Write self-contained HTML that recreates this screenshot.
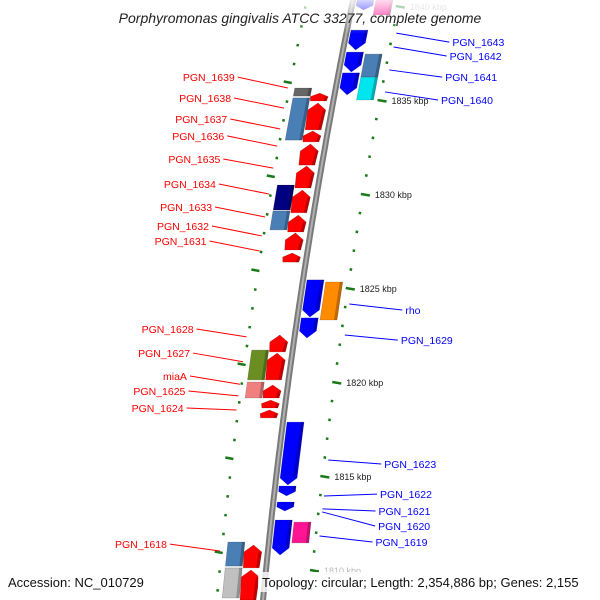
<!DOCTYPE html>
<html><head><meta charset="utf-8">
<style>
html,body{margin:0;padding:0;background:#fff;}
svg{display:block;font-family:"Liberation Sans","DejaVu Sans",sans-serif;}
</style></head>
<body>
<svg id="c" width="600" height="600" viewBox="0 0 600 600">
<defs>
<linearGradient id="fadeTop" x1="0" y1="0" x2="0" y2="1">
<stop offset="0" stop-color="#fff" stop-opacity="0.85"/><stop offset="1" stop-color="#fff" stop-opacity="0"/>
</linearGradient>
</defs>
<g id="ticks"></g>
<path id="bb" fill="none" stroke="#7a7a7a" stroke-width="6"/>
<path id="bb2" fill="none" stroke="#b0b0b0" stroke-width="2"/>
<g id="genes"></g>
<g id="labels"></g>
<rect x="0" y="0" width="600" height="34" fill="url(#fadeTop)"/>
<text x="300" y="23" text-anchor="middle" font-size="14" font-style="italic" fill="#222">Porphyromonas gingivalis ATCC 33277, complete genome</text>
<rect x="258" y="572" width="336" height="20" fill="#fff" fill-opacity="0.8"/>
<text x="8" y="587" font-size="13" fill="#111">Accession: NC_010729</text>
<text x="262" y="587" font-size="13" fill="#111">Topology: circular; Length: 2,354,886 bp; Genes: 2,155</text>
</svg>
<script>
// ---- data (kbp) ----
const leftInnerStart=[1835.37,1834.84,1833.35,1832.66,1831.49,1830.21,1828.88,1827.93,1826.86,1822.50,1821.54,1819.84,1819.04,1818.51,1811.33,1810.00];
const leftInnerEnd  =[1834.95,1833.41,1832.77,1831.54,1830.32,1829.00,1827.98,1827.02,1826.38,1821.60,1820.11,1819.15,1818.62,1818.09,1810.11,1808.40];
const leftOuterStart=[1835.64,1835.11,1830.48,1829.10,1821.70,1820.00,1811.49,1810.11];
const leftOuterEnd  =[1835.21,1832.87,1829.15,1828.09,1820.11,1819.15,1810.21,1808.51];
const leftOuterColor=["#666666","#4a7fb5","#000080","#4a7fb5","#6b8e23","#f08080","#4a7fb5","#c0c0c0"];
const rightInnerStart=[1840.32,1838.72,1837.55,1836.44,1825.43,1823.41,1817.87,1814.47,1813.62,1812.66];
const rightInnerEnd  =[1839.79,1837.66,1836.49,1835.27,1823.46,1822.34,1814.52,1813.94,1813.14,1810.80];
const rightOuterStart=[1840.32,1837.44,1836.22,1825.32,1812.55];
const rightOuterEnd  =[1839.52,1836.22,1835.00,1823.30,1811.44];
const rightOuterColor=["#ff1493","#4a7fb5","#00e5ee","#ff8c00","#ff1493"];
const tickLabels=[1840,1835,1830,1825,1820,1815,1810];
const leftGeneLabels=["PGN_1639","PGN_1638","PGN_1637","PGN_1636","PGN_1635","PGN_1634","PGN_1633","PGN_1632","PGN_1631","PGN_1628","PGN_1627","miaA","PGN_1625","PGN_1624","PGN_1618"];
const leftLabelKbp=[1835.64,1834.57,1833.46,1832.55,1831.38,1830.00,1828.78,1827.77,1826.97,1822.40,1821.08,1819.88,1819.26,1818.51,1811.01];
const leftLabelTextKbp=[1836.22,1835.11,1833.99,1833.09,1831.86,1830.53,1829.31,1828.30,1827.50,1822.82,1821.54,1820.32,1819.52,1818.62,1811.38];
const rightGeneLabels=["PGN_1643","PGN_1642","PGN_1641","PGN_1640","rho","PGN_1629","PGN_1623","PGN_1622","PGN_1621","PGN_1620","PGN_1619"];
const rightLabelKbp=[1838.56,1837.82,1836.60,1835.43,1824.15,1822.50,1815.85,1813.94,1813.25,1813.09,1811.81];
const rightLabelTextKbp=[1838.08,1837.34,1836.22,1835.00,1823.83,1822.23,1815.64,1814.04,1813.14,1812.34,1811.49];

const NS="http://www.w3.org/2000/svg";
function Y(k){return (1840.32-k)*18.8;}
function X(y){return 353-0.2036*y+0.0000893*y*y;}
function el(t,a,p){const e=document.createElementNS(NS,t);for(const k in a)e.setAttribute(k,a[k]);p.appendChild(e);return e;}
let d="";for(let y=-5;y<=605;y+=5){d+=(y==-5?"M":"L")+X(y).toFixed(1)+","+y;}
document.getElementById("bb").setAttribute("d",d);
document.getElementById("bb2").setAttribute("d",d);
const gT=document.getElementById("ticks"),gG=document.getElementById("genes"),gL=document.getElementById("labels");
for(let k=1808;k<=1841;k++){
  const major=k%5==0;
  const yr=Y(k), xr=X(yr)+45;
  const t1=el("line",{x1:xr-(major?1:0),y1:yr,x2:xr+(major?8:2.5),y2:yr+(major?1.5:0.5),stroke:"#1a7a1a","stroke-width":2.5},gT);
  
  
  const yl=yr-17, xl=X(yl)-45;
  const t2=el("line",{x1:xl-(major?8:2.5),y1:yl-(major?1.5:0.5),x2:xl,y2:yl,stroke:"#1a7a1a","stroke-width":2.5},gT);
  
  
}
tickLabels.forEach(k=>{
  const y=Y(k); const x=X(y)+58;
  const t=el("text",{x:x,y:y+4,"font-size":9,fill:(k==1840||k==1810)?"#bbb":"#222"},gT);
  t.textContent=k+" kbp";
  
  
});
function gene(ys,ye,o1,o2,color,dir,name){
  const len=ye-ys, head=Math.min(7,len*0.45);
  let pts;
  const a=X(ys),b=X(ye);
  if(dir==-1){
    const yh=ys+head, xh=X(yh), m=(o1+o2)/2;
    pts=[[a+m,ys],[xh+o2+1,yh],[b+o2,ye],[b+o1,ye],[xh+o1-1,yh]];
  }else if(dir==1){
    const yh=ye-head, xh=X(yh), m=(o1+o2)/2;
    pts=[[a+o1,ys],[a+o2,ys],[xh+o2,yh],[b+m,ye],[xh+o1,yh]];
  }else{
    pts=[[a+o1,ys],[a+o2,ys],[b+o2,ye],[b+o1,ye]];
  }
  const p=el("polygon",{points:pts.map(q=>q[0].toFixed(1)+","+q[1].toFixed(1)).join(" "),fill:color,stroke:"rgba(0,0,0,0.25)","stroke-width":0.6},gG);
  
  
  const s=el("polygon",{points:[[a+o2-3,ys+(dir==-1?head:0)],[a+o2,ys+(dir==-1?head:0)],[b+o2,ye-(dir==1?head:0)],[b+o2-3,ye-(dir==1?head:0)]].map(q=>q[0].toFixed(1)+","+q[1].toFixed(1)).join(" "),fill:"rgba(0,0,0,0.25)"},gG);
  
  
}
leftInnerStart.forEach((k,i)=>gene(Y(k),Y(leftInnerEnd[i]),-23,-7,"#ff0000",-1,"gene-left-inner"));
leftOuterStart.forEach((k,i)=>gene(Y(k),Y(leftOuterEnd[i]),-41,-24,leftOuterColor[i],0,"gene-left-outer"));
rightInnerStart.forEach((k,i)=>gene(Y(k),Y(rightInnerEnd[i]),4,21,"#0000ff",1,"gene-right-inner"));
rightOuterStart.forEach((k,i)=>gene(Y(k),Y(rightOuterEnd[i]),23,40,rightOuterColor[i],0,"gene-right-outer"));
leftGeneLabels.forEach((n,i)=>{
  const ye=Y(leftLabelKbp[i]), xe=X(ye)-48;
  const yt=Y(leftLabelTextKbp[i]); const xt=xe-53;
  const l=el("line",{x1:xt+3,y1:yt,x2:xe,y2:ye,stroke:"#ff0000","stroke-width":1},gL);
  
  
  const t=el("text",{x:xt,y:yt+4,"text-anchor":"end","font-size":10.5,fill:"#ff0000"},gL);
  t.textContent=n;
  
  
});
rightGeneLabels.forEach((n,i)=>{
  const ys=Y(rightLabelKbp[i]), xs=X(ys)+50;
  const yt=Y(rightLabelTextKbp[i]); const xt=xs+56;
  const l=el("line",{x1:xs,y1:ys,x2:xt-3,y2:yt,stroke:"#0000ff","stroke-width":1},gL);
  
  
  const t=el("text",{x:xt,y:yt+4,"font-size":10.5,fill:"#0000ff"},gL);
  t.textContent=n;
  
  
});
</script>
</body></html>
